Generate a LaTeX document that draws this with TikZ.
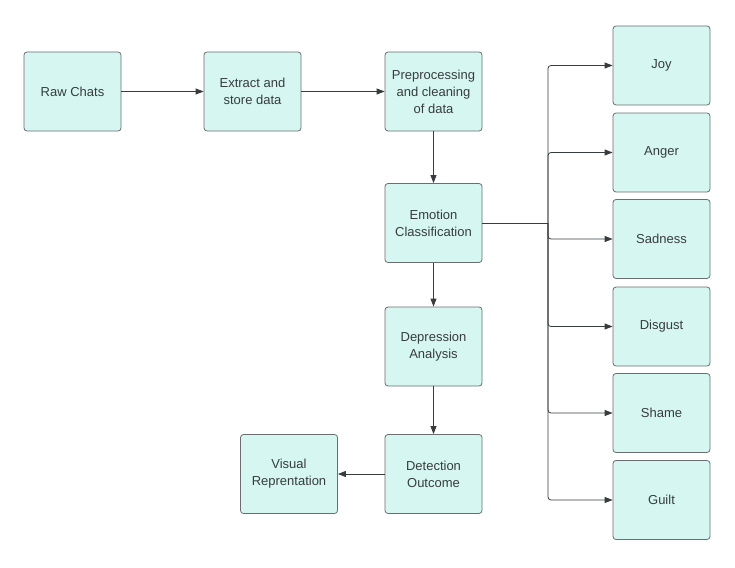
\documentclass[tikz,border=0pt]{standalone}
\usepackage{fontspec}
\setmainfont{Liberation Sans}
\usetikzlibrary{arrows.meta}

\definecolor{boxfill}{RGB}{214,247,241}
\definecolor{boxline}{RGB}{105,110,110}
\definecolor{ink}{RGB}{55,60,62}

\begin{document}
\begin{tikzpicture}[x=1pt,y=-1pt,
	stepbox/.style={draw=boxline, fill=boxfill, rounded corners=3pt, line width=0.8pt,
		minimum width=97pt, minimum height=79pt, align=center, text=ink,
		font=\fontsize{13}{17}\selectfont},
	arr/.style={draw=ink, line width=0.8pt, -{Triangle[length=8pt,width=6pt]}}]
	\useasboundingbox (0,0) rectangle (735,567);

	\node[stepbox] (raw) at (72.5,91.5) {Raw Chats};
	\node[stepbox] (extract) at (252.5,91.5) {Extract and\\store data};
	\node[stepbox] (prep) at (433.5,91.5) {Preprocessing\\and cleaning\\of data};
	\node[stepbox] (emo) at (433.5,223) {Emotion\\Classification};
	\node[stepbox] (dep) at (433.5,346.5) {Depression\\Analysis};
	\node[stepbox] (detect) at (433.5,474) {Detection\\Outcome};
	\node[stepbox] (visual) at (289,474) {Visual\\Reprentation};

	\node[stepbox] (joy) at (661.5,65.5) {Joy};
	\node[stepbox] (anger) at (661.5,152.5) {Anger};
	\node[stepbox] (sad) at (661.5,239) {Sadness};
	\node[stepbox] (disgust) at (661.5,326.5) {Disgust};
	\node[stepbox] (shame) at (661.5,413) {Shame};
	\node[stepbox] (guilt) at (661.5,500) {Guilt};

	\draw[arr] (raw) -- (extract);
	\draw[arr] (extract) -- (prep);
	\draw[arr] (prep) -- (emo);
	\draw[arr] (emo) -- (dep);
	\draw[arr] (dep) -- (detect);
	\draw[arr] (detect) -- (visual);

	% fork to the emotions
	\coordinate (fork) at (548,223);
	\draw[draw=ink, line width=0.8pt] (emo.east) -- (fork);
	\foreach \e in {joy,anger,sad,disgust,shame,guilt}
		\draw[arr, rounded corners=3pt] (fork) |- (\e.west);
\end{tikzpicture}
\end{document}
